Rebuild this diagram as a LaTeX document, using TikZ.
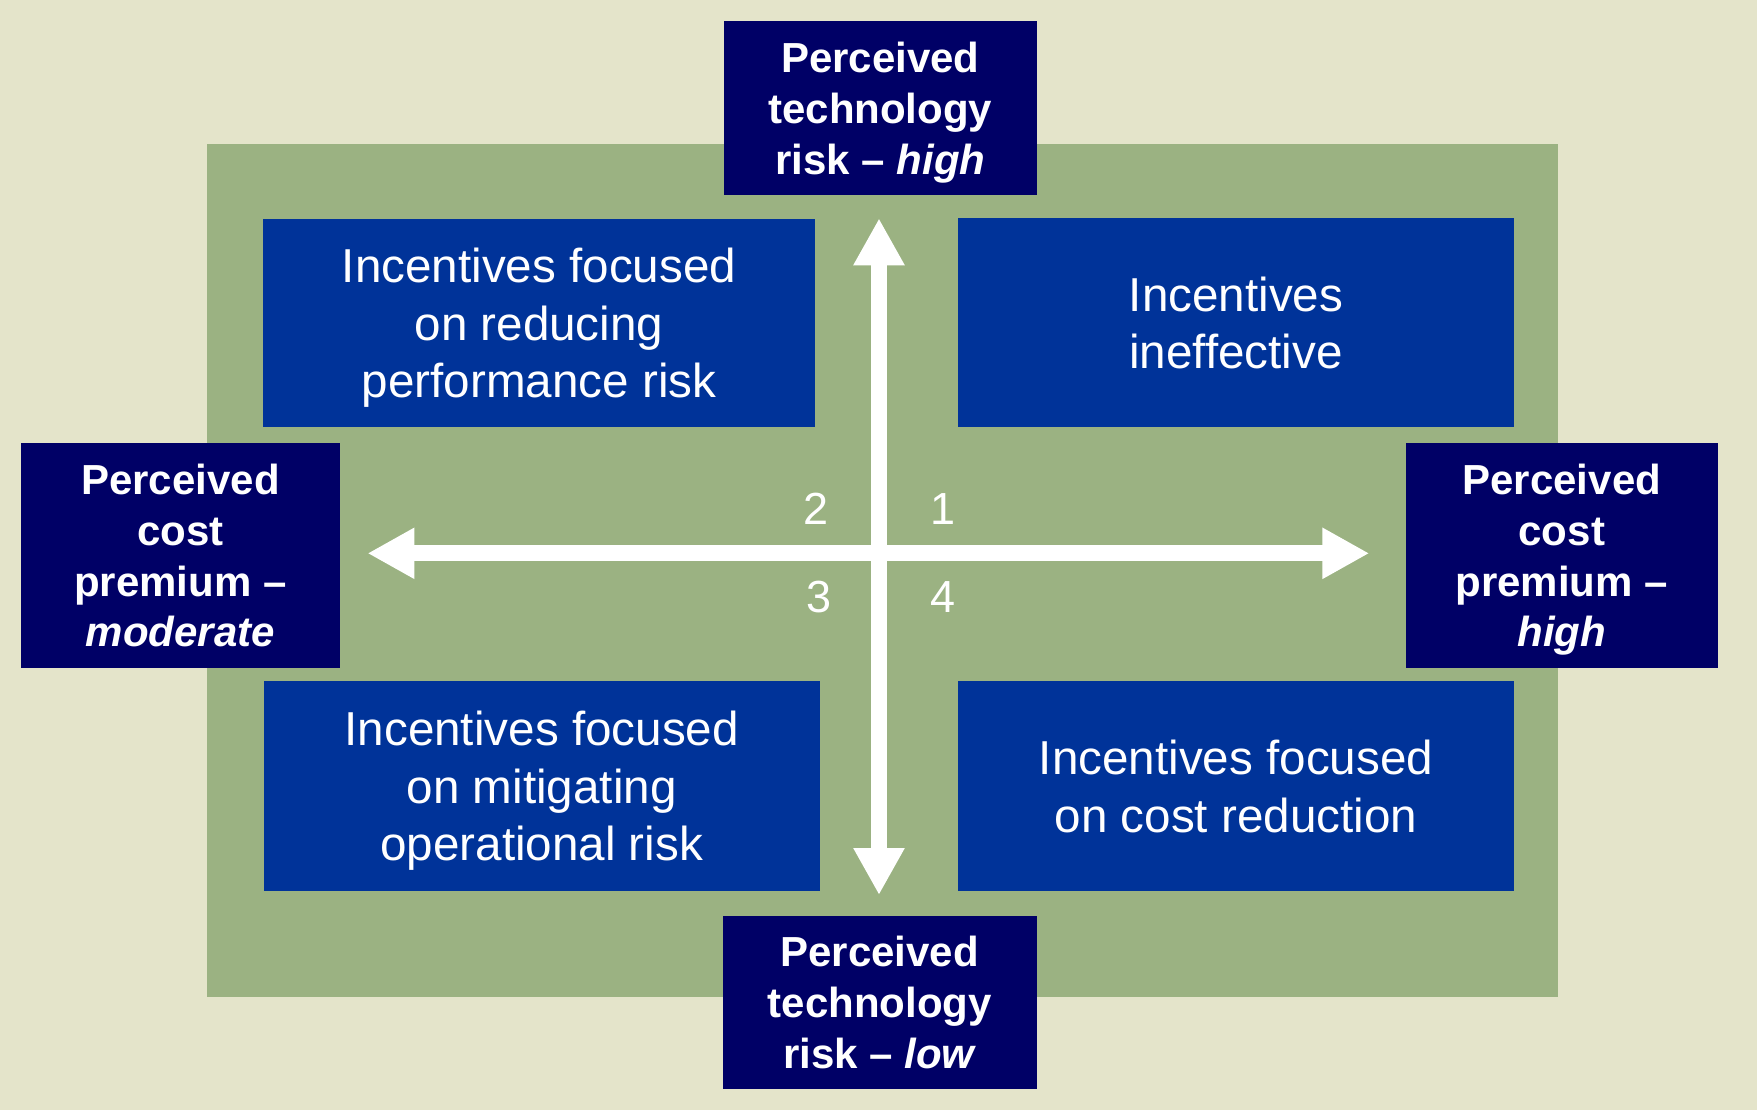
\documentclass[tikz,border=0pt]{standalone}
\usepackage{fontspec}
\setmainfont{Liberation Sans}
\usetikzlibrary{arrows.meta}
\definecolor{bgbeige}{HTML}{E4E4CA}
\definecolor{panelgreen}{HTML}{9BB282}
\definecolor{navybox}{HTML}{000066}
\definecolor{quadblue}{HTML}{003399}
\begin{document}
\begin{tikzpicture}[x=0.02cm,y=-0.02cm,
  axisbox/.style={fill=navybox, text=white, font=\fontsize{23.9}{29}\selectfont\bfseries, align=center, inner sep=0pt, text depth=0pt},
  quadbox/.style={fill=quadblue, text=white, font=\fontsize{27.1}{32.8}\selectfont, align=center, inner sep=0pt, text depth=0pt},
  numlabel/.style={text=white, font=\fontsize{25.6}{30}\selectfont, inner sep=0pt},
  axisarrow/.style={draw=white, line width=0.32cm, -{Triangle[length=0.94cm,width=0.96cm]}}
]
\fill[bgbeige] (0,0) rectangle (1757,1110);
\useasboundingbox (0,0) rectangle (1757,1110);
\fill[panelgreen] (207,143.5) rectangle (1557.5,996.5);

% quadrant boxes
\node[quadbox, minimum width=11.03cm, minimum height=4.17cm] (q2) at (539,322.8) {Incentives focused\\on reducing\\performance risk};
\node[quadbox, minimum width=11.12cm, minimum height=4.18cm] (q1) at (1236,322.8) {Incentives\\ineffective};
\node[quadbox, minimum width=11.13cm, minimum height=4.2cm] (q3) at (541.7,786) {Incentives focused\\on mitigating\\operational risk};
\node[quadbox, minimum width=11.12cm, minimum height=4.2cm] (q4) at (1236,786) {Incentives focused\\on cost reduction};

% axis arrows
\coordinate (ctr) at (879,553.3);
\coordinate (uptip) at (879,218.3);
\coordinate (downtip) at (879,895);
\coordinate (lefttip) at (367.5,553.3);
\coordinate (righttip) at (1369.3,553.3);
\draw[axisarrow] (ctr) -- (uptip);
\draw[axisarrow] (ctr) -- (downtip);
\draw[axisarrow] (ctr) -- (lefttip);
\draw[axisarrow] (ctr) -- (righttip);

% numbers
\node[numlabel] (n2) at (815.7,509) {2};
\node[numlabel] (n1) at (942.7,509) {1};
\node[numlabel] (n3) at (819,597) {3};
\node[numlabel] (n4) at (943.3,597) {4};

% axis label boxes
\node[axisbox, minimum width=6.254cm, minimum height=3.474cm] (top) at (880.3,107.9) {Perceived\\technology\\risk -- \textit{high}};
\node[axisbox, minimum width=6.274cm, minimum height=3.466cm] (bottom) at (879.8,1002.7) {Perceived\\technology\\risk -- \textit{low}};
\node[axisbox, minimum width=6.38cm, minimum height=4.494cm] (left) at (180.5,555.3) {Perceived\\cost\\premium --\\\textit{moderate}};
\node[axisbox, minimum width=6.234cm, minimum height=4.494cm] (right) at (1561.8,555.3) {Perceived\\cost\\premium --\\\textit{high}};
\end{tikzpicture}
\end{document}
